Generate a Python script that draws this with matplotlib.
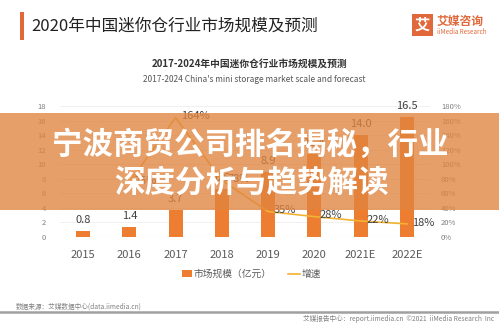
import matplotlib
matplotlib.use("Agg")
import matplotlib.pyplot as plt
from matplotlib.patches import Rectangle
import numpy as np

plt.rcParams["font.family"] = ["Noto Sans CJK SC", "DejaVu Sans"]

# data
years = ["2015", "2016", "2017", "2018", "2019", "2020", "2021E", "2022E"]
market = [0.8, 1.4, 3.7, 6.6, 8.9, 11.4, 14.0, 16.5]  # 亿元
growth_years = ["2016", "2017", "2018", "2019", "2020", "2021E", "2022E"]
growth = [75, 164, 78, 35, 28, 22, 18]  # %
left_ticks = list(range(0, 19, 2))
right_ticks = list(range(0, 181, 20))

W, H = 499, 324
fig = plt.figure(figsize=(W / 100, H / 100), dpi=100)
fig.patch.set_facecolor("white")


def fx(px):
    return px / W


def fy(py):
    return 1 - py / H


# header
fig.patches.append(Rectangle((fx(20), fy(40)), fx(4), 28 / H, transform=fig.transFigure,
                             facecolor="#E0683A", edgecolor="none"))
fig.text(fx(31), fy(26), "2020年中国迷你仓行业市场规模及预测", fontsize=12,
         color="#222222", va="center", ha="left")
fig.patches.append(Rectangle((fx(412), fy(36)), fx(21), 22 / H, transform=fig.transFigure,
                             facecolor="#E0683A", edgecolor="none"))
fig.text(fx(422.5), fy(25), "艾", fontsize=11, color="white", fontweight="bold",
         ha="center", va="center")
fig.text(fx(437), fy(21), "艾媒咨询", fontsize=8.5, color="#E0683A", fontweight="bold",
         ha="left", va="center")
fig.text(fx(437), fy(32), "iiMedia Research", fontsize=4.5, color="#E0683A",
         ha="left", va="center")

fig.text(fx(250), fy(64), "2017-2024年中国迷你仓行业市场规模及预测", fontsize=7,
         fontweight="bold", color="#333333", ha="center", va="center")
fig.text(fx(254), fy(80), "2017-2024 China's mini storage market scale and forecast",
         fontsize=6, color="#555555", ha="center", va="center")

# chart
ax = fig.add_axes([fx(60), fy(237), fx(370), 131 / H])
x = np.arange(len(years))
ax.bar(x, market, width=0.3, color="#ED7D31", zorder=2)
for xi, v in zip(x, market):
    ax.annotate(f"{v:.1f}", (xi, v), xytext=(0, 8), textcoords="offset points",
                ha="center", va="center", fontsize=8, color="#404040")
ax.set_xlim(-0.5, len(years) - 0.5)
ax.set_ylim(0, 18)
ax.set_yticks(left_ticks)
ax.set_yticklabels([str(t) for t in left_ticks], fontsize=5.5, color="#808080")
ax.set_xticks(x)
ax.set_xticklabels(years, fontsize=8, color="#595959")
ax.tick_params(length=0, axis="both")
ax.tick_params(axis="x", pad=9)
ax.tick_params(axis="y", pad=10)
ax.grid(axis="y", color="#EEEEEE", linewidth=0.6, zorder=0)
for s in ax.spines.values():
    s.set_visible(False)
ax.axhline(0, color="#E6E6E6", linewidth=0.8, zorder=1)

ax2 = ax.twinx()
gx = [years.index(y) for y in growth_years]
ax2.plot(gx, growth, color="#F2B234", linewidth=1.2, zorder=3)
for xi, g in zip(gx, growth):
    ax2.annotate(f"{g}%", (xi, g), xytext=(4, 1), textcoords="offset points",
                 ha="left", va="center", fontsize=8, color="#404040")
ax2.set_ylim(0, 180)
ax2.set_yticks(right_ticks)
ax2.set_yticklabels([f"{t}%" for t in right_ticks], fontsize=5.5, color="#808080")
ax2.tick_params(length=0, pad=8)
for s in ax2.spines.values():
    s.set_visible(False)

# legend
fig.patches.append(Rectangle((fx(182), fy(277)), fx(10), 7 / H, transform=fig.transFigure,
                             facecolor="#ED7D31", edgecolor="none"))
fig.text(fx(194), fy(273.5), "市场规模（亿元）", fontsize=7, color="#595959",
         ha="left", va="center")
fig.lines.append(plt.Line2D([fx(288), fx(300)], [fy(274), fy(274)], transform=fig.transFigure,
                            color="#F2B234", linewidth=1.2))
fig.text(fx(302), fy(273.5), "增速", fontsize=7, color="#595959", ha="left", va="center")

# footer
fig.text(fx(16), fy(307), "数据来源：艾媒数据中心(data.iimedia.cn)", fontsize=4.8,
         color="#808080", ha="left", va="center")
fig.lines.append(plt.Line2D([0, 1], [fy(312), fy(312)], transform=fig.transFigure,
                            color="#A0A0A0", linewidth=1.8))
fig.text(fx(494), fy(319), "艾媒报告中心：report.iimedia.cn  ©2021  iiMedia Research  Inc",
         fontsize=4.8, color="#808080", ha="right", va="center")

# overlay banner
fig.patches.append(Rectangle((0, fy(210)), 1, 97 / H, transform=fig.transFigure,
                             facecolor="#E0843F", alpha=0.78, edgecolor="none", zorder=10))
fig.text(fx(250), fy(145), "宁波商贸公司排名揭秘，行业", fontsize=22, fontweight="bold",
         color="white", ha="center", va="center", zorder=11)
fig.text(fx(251), fy(183), "深度分析与趋势解读", fontsize=22, fontweight="bold",
         color="white", ha="center", va="center", zorder=11)

fig.savefig("out.png", dpi=100)
